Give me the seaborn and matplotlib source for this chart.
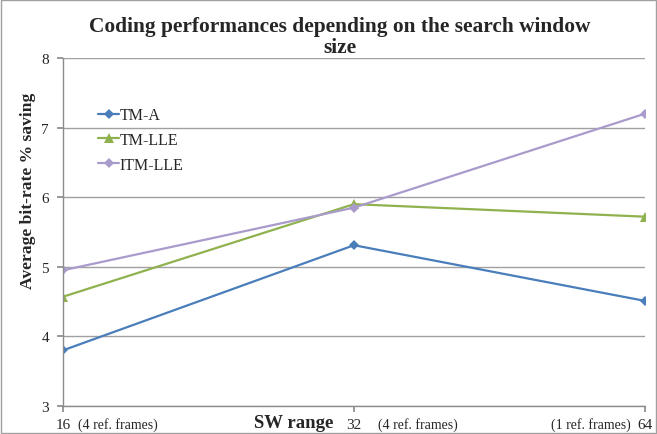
import matplotlib
matplotlib.use("Agg")
import matplotlib.pyplot as plt
import matplotlib.transforms as mtransforms
import seaborn as sns
import pandas as pd

sw_range = ["16", "32", "64"]
ref_notes = ["(4 ref. frames)", "(4 ref. frames)", "(1 ref. frames)"]
tm_a = [3.80, 5.31, 4.51]
tm_lle = [4.57, 5.90, 5.72]
itm_lle = [4.95, 5.85, 7.20]
series_names = ["TM-A", "TM-LLE", "ITM-LLE"]
series_values = [tm_a, tm_lle, itm_lle]
colors = ["#4A7EBB", "#8FB24F", "#A99BCB"]
markers = ["D", "^", "D"]
marker_sizes = [5, 7, 5]

sns.set_theme(style="white")
plt.rcParams["font.family"] = ["Liberation Serif", "DejaVu Serif"]

fig = plt.figure(figsize=(6.57, 4.35), dpi=100)
ax = fig.add_axes([63/657, 1-407/435, (645-63)/657, (407-59)/435])

positions = list(range(len(sw_range)))
for name, vals, col, mk, ms in zip(series_names, series_values, colors, markers, marker_sizes):
    df = pd.DataFrame({"x": positions, "value": vals})
    sns.lineplot(data=df, x="x", y="value", color=col, marker=mk, markersize=ms,
                 markeredgewidth=0, linewidth=1.6, label=name, ax=ax)

ax.set_xlim(0, 2)
ax.set_ylim(3, 8)
ax.set_yticks([3, 4, 5, 6, 7, 8])
ax.set_xticks(positions)
ax.set_xticklabels(sw_range, fontsize=11)
ax.tick_params(axis="y", labelsize=11, length=4, color="#8C8C8C", direction="out", left=True, pad=6)
ax.tick_params(axis="x", length=4, color="#8C8C8C", direction="out", bottom=True, pad=5)
ax.yaxis.grid(True, color="#A0A0A0", linewidth=1)
ax.xaxis.grid(False)
for s in ["top", "right"]:
    ax.spines[s].set_visible(False)
for s in ["left", "bottom"]:
    ax.spines[s].set_color("#8C8C8C")
    ax.spines[s].set_linewidth(1)
ax.set_axisbelow(True)

trans = mtransforms.blended_transform_factory(ax.transData, ax.transAxes)
note_offsets = [10.5, 17, -10.5]
note_ha = ["left", "left", "right"]
for pos, note, off, ha in zip(positions, ref_notes, note_offsets, note_ha):
    ax.annotate(note, xy=(pos, 0), xycoords=trans, xytext=(off, -15.8),
                textcoords="offset points", ha=ha, va="baseline", fontsize=10)

ax.set_xlabel("SW range", fontsize=13.5, fontweight="bold")
ax.xaxis.set_label_coords(0.397, -0.022)
ax.set_ylabel("Average bit-rate % saving", fontsize=12.6, fontweight="bold")
ax.yaxis.set_label_coords(-0.046, 0.62)

fig.suptitle("Coding performances depending on the search window\nsize",
             fontsize=15.4, fontweight="bold", x=340/657, y=0.962, linespacing=1.12)

ax.legend(loc="upper left", bbox_to_anchor=(0.036, 0.9), frameon=False,
          fontsize=11.5, handlelength=1.3, handletextpad=0.05, labelspacing=0.55)

fig.patches.append(plt.Rectangle((0.002, 0.002), 0.996, 0.996, transform=fig.transFigure,
                                 fill=False, edgecolor="#A0A0A0", linewidth=1))

fig.savefig("out.png", dpi=100)
